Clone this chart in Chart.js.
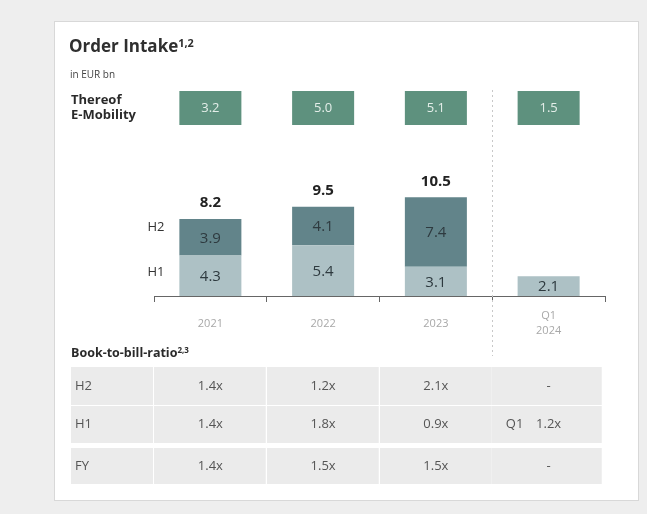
<!DOCTYPE html>
<html>
<head>
<meta charset="utf-8">
<script src="https://cdn.jsdelivr.net/npm/chart.js@4.4.1/dist/chart.umd.min.js"></script>
<style>
  body { margin: 0; width: 647px; height: 514px; overflow: hidden; background: #eeeeee; font-family: "Open Sans", sans-serif; }
  .card { position: absolute; left: 54px; top: 21px; width: 583px; height: 478px; background: #fff; border: 1px solid #d8d8d8; }
  #chart { position: absolute; left: 0; top: 0; }
  .txt { position: absolute; color: #333; white-space: nowrap; z-index: 2; }
  .title { left: 69px; top: 36px; font-size: 17px; font-weight: 700; line-height: 20px; color: #2f2f2f; }
  .title sup, .btb sup { font-size: 0.64em; vertical-align: 0; position: relative; top: -0.5em; }
  .unit { left: 70px; top: 68px; font-size: 10px; line-height: 12px; color: #444; }
  .emob { left: 71px; top: 92px; font-size: 13px; font-weight: 700; line-height: 15px; color: #2a2a2a; }
  .btb { left: 71px; top: 345px; font-size: 12.5px; font-weight: 700; line-height: 15px; color: #2a2a2a; }
</style>
</head>
<body>
<div class="card"></div>
<div class="txt title">Order Intake<sup>1,2</sup></div>
<div class="txt unit">in EUR bn</div>
<div class="txt emob">Thereof<br>E-Mobility</div>
<div class="txt btb">Book-to-bill-ratio<sup>2,3</sup></div>
<canvas id="chart" width="647" height="514"></canvas>
<script>
// order intake in EUR bn
const periods = [['2021'], ['2022'], ['2023'], ['Q1', '2024']];
const h1Values = [4.3, 5.4, 3.1, 2.1];
const h2Values = [3.9, 4.1, 7.4, null];
const totals = ['8.2', '9.5', '10.5', null];
const eMobility = ['3.2', '5.0', '5.1', '1.5'];

// book-to-bill table
const btbRows = ['H2', 'H1', 'FY'];
const btbH2 = ['1.4x', '1.2x', '2.1x', '-'];
const btbH1 = ['1.4x', '1.8x', '0.9x', '1.2x'];
const btbFY = ['1.4x', '1.5x', '1.5x', '-'];
const btbPrefix = ['', '', '', 'Q1'];

const FONT = '"Open Sans", sans-serif';
const H1_COLOR = '#adc1c5';
const H2_COLOR = '#62848a';
const GREEN = '#5e917e';

const extras = {
  id: 'extras',
  afterDatasetsDraw(chart) {
    const ctx = chart.ctx;
    const x = chart.scales.x;
    const h1Meta = chart.getDatasetMeta(0).data;
    const h2Meta = chart.getDatasetMeta(1).data;
    const catW = (x.right - x.left) / periods.length;

    ctx.save();
    ctx.textAlign = 'center';
    ctx.textBaseline = 'middle';

    // values inside the segments
    ctx.fillStyle = '#2e3a3f';
    ctx.font = '15px ' + FONT;
    h1Meta.forEach((el, i) => {
      if (h1Values[i] == null) return;
      ctx.fillText(h1Values[i].toFixed(1), el.x, (el.y + el.base) / 2 + 1);
    });
    h2Meta.forEach((el, i) => {
      if (h2Values[i] == null) return;
      ctx.fillText(h2Values[i].toFixed(1), el.x, (el.y + el.base) / 2 + 1);
    });

    // totals on top
    ctx.fillStyle = '#222';
    ctx.font = 'bold 15px ' + FONT;
    totals.forEach((t, i) => {
      if (!t) return;
      const top = h2Meta[i].y;
      ctx.fillText(t, h2Meta[i].x, top - 16);
    });

    // H2 / H1 row captions left of the first bar
    ctx.fillStyle = '#333';
    ctx.font = '13px ' + FONT;
    ctx.fillText('H2', x.left + 2, h2Meta[0].y + 8);
    ctx.fillText('H1', x.left + 2, (h1Meta[0].y + h1Meta[0].base) / 2 - 3);

    // E-Mobility boxes
    ctx.font = '13px ' + FONT;
    eMobility.forEach((v, i) => {
      const el = h1Meta[i];
      ctx.fillStyle = GREEN;
      ctx.fillRect(el.x - el.width / 2, 91, el.width, 34);
      ctx.fillStyle = '#e4eee9';
      ctx.fillText(v, el.x, 108);
    });

    // dashed separator before Q1 2024
    const sepX = Math.round(x.getPixelForValue(3) - catW / 2) + 0.5;
    ctx.strokeStyle = '#c8c8c8';
    ctx.lineWidth = 1;
    ctx.setLineDash([2, 3]);
    ctx.beginPath();
    ctx.moveTo(sepX, 90);
    ctx.lineTo(sepX, 356);
    ctx.stroke();
    ctx.setLineDash([]);

    // book-to-bill table
    const rowsY = [[367, 405], [406, 443], [448, 484]];
    const rowVals = [btbH2, btbH1, btbFY];
    rowsY.forEach(([y0, y1], r) => {
      ctx.fillStyle = '#ebebeb';
      ctx.fillRect(71, y0, x.left - 71 - 1, y1 - y0);
      for (let i = 0; i < periods.length; i++) {
        const cx = x.getPixelForValue(i);
        const l = Math.round(cx - catW / 2);
        const w = i === periods.length - 1 ? catW - 3 : catW - 1;
        ctx.fillRect(l, y0, w, y1 - y0);
      }
      const cy = (y0 + y1) / 2;
      ctx.fillStyle = '#555';
      ctx.font = '13px ' + FONT;
      ctx.textAlign = 'left';
      ctx.fillText(btbRows[r], 75, cy);
      ctx.textAlign = 'center';
      rowVals[r].forEach((v, i) => {
        const cx = x.getPixelForValue(i);
        ctx.fillText(v, cx, cy);
        if (r === 1 && btbPrefix[i]) ctx.fillText(btbPrefix[i], cx - 34, cy);
      });
    });

    ctx.restore();
  }
};

new Chart(document.getElementById('chart'), {
  type: 'bar',
  data: {
    labels: periods,
    datasets: [
      { label: 'H1', data: h1Values, backgroundColor: H1_COLOR },
      { label: 'H2', data: h2Values, backgroundColor: H2_COLOR }
    ]
  },
  options: {
    responsive: false,
    devicePixelRatio: 1,
    animation: false,
    events: [],
    layout: { padding: { left: 154, right: 42, top: 108, bottom: 0 } },
    datasets: { bar: { categoryPercentage: 1, barPercentage: 0.55 } },
    plugins: { legend: { display: false }, tooltip: { enabled: false } },
    scales: {
      y: { display: false, stacked: true, min: 0, max: 20 },
      x: {
        stacked: true,
        offset: true,
        afterFit: (s) => { s.height = 218; },
        border: { display: true, color: '#666', width: 1 },
        grid: { drawOnChartArea: false, drawTicks: true, tickLength: 6, color: '#666', offset: true },
        ticks: {
          color: '#a8a8a8',
          padding: 14,
          crossAlign: 'center',
          maxRotation: 0,
          font: { family: FONT, size: 11, lineHeight: 1.35 }
        }
      }
    }
  },
  plugins: [extras]
});
</script>
</body>
</html>
